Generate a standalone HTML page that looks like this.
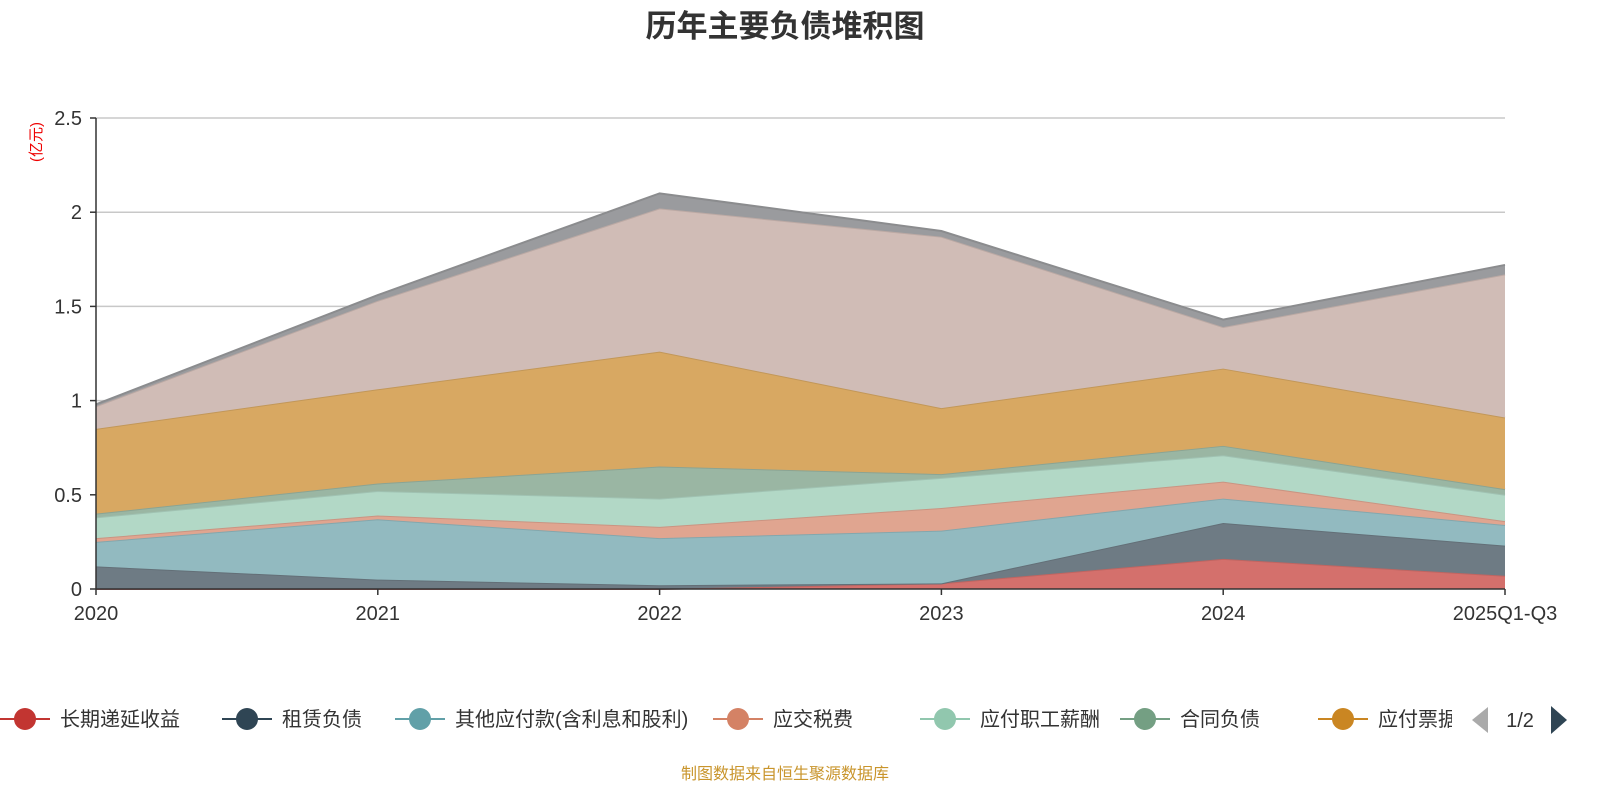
<!DOCTYPE html>
<html><head><meta charset="utf-8">
<style>
body{margin:0;background:#fff;}
svg text{font-family:"Liberation Sans","Noto Sans CJK SC",sans-serif;}
</style></head>
<body>
<svg id="chart" width="1600" height="800" xmlns="http://www.w3.org/2000/svg">
<text x="785" y="37" text-anchor="middle" font-size="31" font-weight="bold" fill="#333">历年主要负债堆积图</text>
<text transform="translate(41,142) rotate(-90)" text-anchor="middle" font-size="15" fill="#e00">(亿元)</text>
<g id="grid"></g>
<g id="areas"></g>
<g id="axes"></g>
<g id="legend"></g>
<text x="785" y="779" text-anchor="middle" font-size="16" fill="#c9952c">制图数据来自恒生聚源数据库</text>
</svg>
<script>
const categories=["2020","2021","2022","2023","2024","2025Q1-Q3"];
const seriesNames=["长期递延收益","租赁负债","其他应付款(含利息和股利)","应交税费","应付职工薪酬","合同负债","应付票据","应付账款","其他"];
const s0=[0,0,0,0.03,0.16,0.07];
const s1=[0.12,0.05,0.02,0,0.19,0.16];
const s2=[0.13,0.32,0.25,0.28,0.13,0.11];
const s3=[0.02,0.02,0.06,0.12,0.09,0.02];
const s4=[0.11,0.13,0.15,0.16,0.14,0.14];
const s5=[0.02,0.04,0.17,0.02,0.05,0.03];
const s6=[0.45,0.50,0.61,0.35,0.41,0.38];
const s7=[0.12,0.47,0.76,0.91,0.22,0.76];
const s8=[0.01,0.03,0.08,0.03,0.04,0.05];
const yTicks=[0,0.5,1,1.5,2,2.5];
const yTickLabels=["0","0.5","1","1.5","2","2.5"];
const allSeries=[s0,s1,s2,s3,s4,s5,s6,s7,s8];
const fills=["#d4706c","#6e7b84","#92bac0","#e0a590","#b2d8c6","#9ab6a3","#d8a862","#d0bcb6","#9a9b9e"];
const legendColors=["#c23531","#2f4554","#61a0a8","#d48265","#91c7ae","#749f83","#ca8622"];
const NS="http://www.w3.org/2000/svg";
const X0=96,X1=1505,Y0=589,Y1=118,YMAX=2.5;
const xs=i=>X0+(X1-X0)*i/(categories.length-1);
const ys=v=>Y0-(Y0-Y1)*v/YMAX;
function mk(tag,attrs,parent){const e=document.createElementNS(NS,tag);for(const k in attrs)e.setAttribute(k,attrs[k]);parent.appendChild(e);return e;}
const grid=document.getElementById('grid'),areas=document.getElementById('areas'),axes=document.getElementById('axes'),legend=document.getElementById('legend');
yTicks.forEach((t,i)=>{
  if(t>0){const l=mk('line',{x1:X0,x2:X1,y1:ys(t),y2:ys(t),stroke:'#c8c8c8','stroke-width':1.5},grid);
  
  }
  const tx=mk('text',{x:X0-14,y:ys(t)+7,'text-anchor':'end','font-size':20,fill:'#333'},axes);tx.textContent=yTickLabels[i];
  
  
  const tk=mk('line',{x1:X0-6,x2:X0,y1:ys(t),y2:ys(t),stroke:'#333','stroke-width':1.5},axes);
  
  
});
let base=categories.map(()=>0);
allSeries.forEach((s,k)=>{
  const top=base.map((b,i)=>b+s[i]);
  let d='M'+categories.map((c,i)=>xs(i)+','+ys(top[i])).join(' L');
  for(let i=categories.length-1;i>=0;i--)d+=' L'+xs(i)+','+ys(base[i]);
  d+=' Z';
  const p=mk('path',{d:d,fill:fills[k],stroke:'none'},areas);
  
  
  const ln=mk('polyline',{points:categories.map((c,i)=>xs(i)+','+ys(top[i])).join(' '),fill:'none',stroke:fills[k],'stroke-width':2,filter:'brightness(0.9)'},areas);
  
  
  base=top;
});
const ax=mk('line',{x1:X0,x2:X1,y1:Y0,y2:Y0,stroke:'#333','stroke-width':1.5},axes);


const ay=mk('line',{x1:X0,x2:X0,y1:Y1,y2:Y0,stroke:'#333','stroke-width':1.5},axes);


categories.forEach((c,i)=>{
  const tk=mk('line',{x1:xs(i),x2:xs(i),y1:Y0,y2:Y0+6,stroke:'#333','stroke-width':1.5},axes);
  
  
  const t=mk('text',{x:xs(i),y:Y0+31,'text-anchor':'middle','font-size':20,fill:'#333'},axes);t.textContent=c;
  
  
});
const legendX=[0,222,395,713,920,1120,1318];
const legendLabels=seriesNames.slice(0,7);
const clip=mk('clipPath',{id:'lc'},legend);mk('rect',{x:0,y:695,width:1452,height:50},clip);
const lg=mk('g',{'clip-path':'url(#lc)'},legend);
legendLabels.forEach((n,i)=>{
  const g=mk('g',{},lg);
  
  
  const x=legendX[i];
  mk('line',{x1:x,x2:x+50,y1:719,y2:719,stroke:legendColors[i],'stroke-width':2},g);
  mk('circle',{cx:x+25,cy:719,r:11,fill:legendColors[i]},g);
  const t=mk('text',{x:x+60,y:726,'font-size':20,fill:'#333'},g);t.textContent=n;
});
const pl=mk('polygon',{points:'1488,707 1488,733 1472,720',fill:'#aaa'},legend);


const pt=mk('text',{x:1520,y:727,'text-anchor':'middle','font-size':20,fill:'#333'},legend);pt.textContent='1/2';


const pn=mk('polygon',{points:'1551,706 1551,734 1567,720',fill:'#2f4554'},legend);


</script>
</body></html>
